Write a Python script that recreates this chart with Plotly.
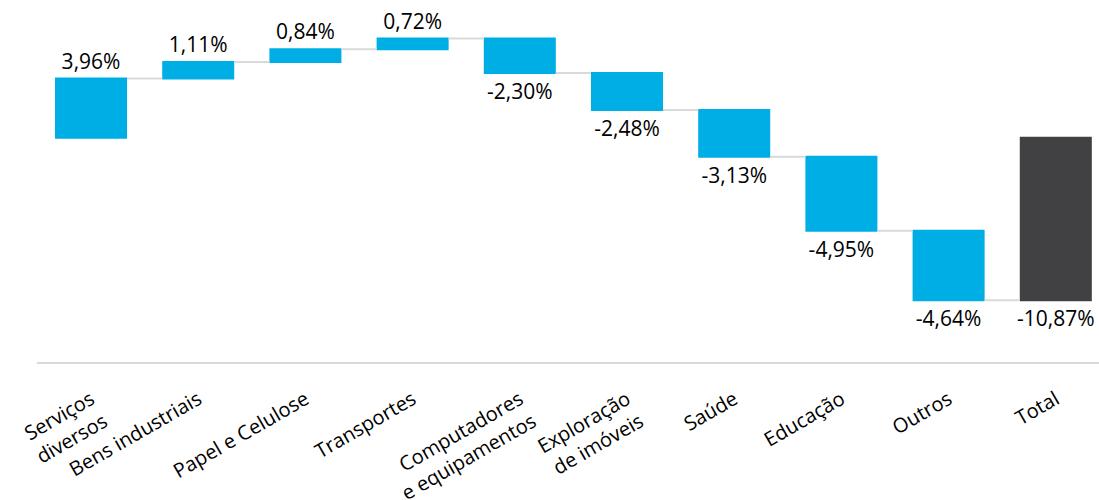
import plotly.graph_objects as go

categories = ["Serviços<br>diversos", "Bens industriais", "Papel e Celulose", "Transportes",
              "Computadores<br>e equipamentos", "Exploração<br>de imóveis", "Saúde",
              "Educação", "Outros", "Total"]
values = [3.96, 1.11, 0.84, 0.72, -2.30, -2.48, -3.13, -4.95, -4.64, -10.87]
measures = ["relative"] * 9 + ["total"]

labels = [f"{v:.2f}%".replace(".", ",") for v in values]

fig = go.Figure(go.Waterfall(
    x=list(range(len(categories))),
    y=values,
    measure=measures,
    text=labels,
    textposition="outside",
    constraintext="none",
    textfont=dict(family="Open Sans", size=21, color="#000000"),
    cliponaxis=False,
    width=0.672,
    increasing=dict(marker=dict(color="#00AEE6")),
    decreasing=dict(marker=dict(color="#00AEE6")),
    totals=dict(marker=dict(color="#414143")),
    connector=dict(line=dict(color="#D9D9D9", width=2), mode="between"),
))

fig.update_layout(
    width=1099, height=500,
    margin=dict(l=37, r=0, t=0, b=138),
    plot_bgcolor="white", paper_bgcolor="white",
    showlegend=False,
    font=dict(family="Open Sans", size=20, color="#000000"),
    xaxis=dict(
        range=[-0.504, 9.403],
        tickmode="array",
        tickvals=list(range(len(categories))),
        ticktext=categories,
        tickangle=-30,
        automargin=False,
        showgrid=False, zeroline=False,
        showline=True, linecolor="#D9D9D9", linewidth=2,
        ticks="outside", ticklen=16, tickcolor="rgba(0,0,0,0)",
        tickfont=dict(family="Open Sans", size=20, color="#000000"),
    ),
    yaxis=dict(
        range=[-15, 9.21],
        visible=False,
        automargin=False,
        showgrid=False, zeroline=False,
    ),
)

fig.write_html("out.html")
